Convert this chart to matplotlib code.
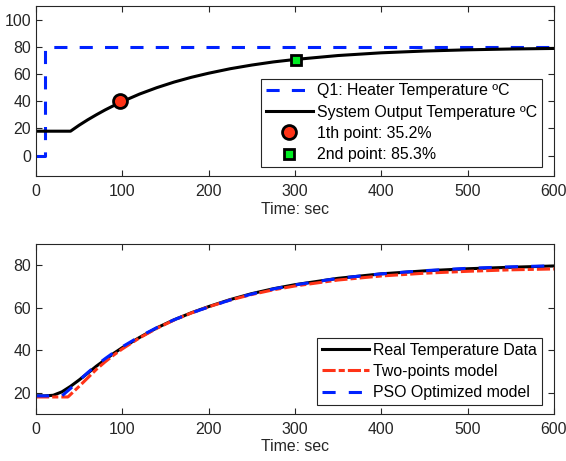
import matplotlib
matplotlib.use("Agg")
import matplotlib.pyplot as plt

plt.rcParams['font.family'] = ['Liberation Sans', 'DejaVu Sans']
plt.rcParams['font.size'] = 11.4

# top panel data
t_q1 = [0, 10, 10, 600]
q1 = [0, 0, 80, 80]

t_out = [0, 10, 20, 30, 40, 50, 60, 70, 80, 90, 100, 120, 140, 160, 180, 200,
         225, 250, 275, 300, 350, 400, 450, 500, 550, 600]
y_out = [18, 18, 18, 18, 18, 22.4, 26.4, 30.1, 33.6, 36.8, 39.8, 45.3, 50.0, 54.1,
         57.6, 60.6, 63.9, 66.6, 68.9, 70.7, 73.6, 75.6, 76.9, 77.8, 78.4, 78.8]

p1 = (97, 40)
p2 = (301, 70.4)

# bottom panel data
t_real = [0, 10, 20, 30, 40, 50, 60, 70, 80, 90, 100, 120, 140, 160, 180, 200,
          225, 250, 275, 300, 350, 400, 450, 500, 550, 600]
y_real = [18.5, 18.5, 18.8, 20.4, 23.0, 26.0, 29.2, 32.5, 35.5, 38.5, 41.2, 46.0,
          50.5, 54.3, 57.6, 60.5, 63.8, 66.6, 68.9, 70.8, 73.8, 75.9, 77.3, 78.3,
          79.0, 79.6]

t_two = [0, 37, 50, 60, 70, 80, 90, 100, 120, 140, 160, 180, 200, 225, 250, 275,
         300, 350, 400, 450, 500, 550, 600]
y_two = [18, 18, 23.0, 27.0, 31.0, 34.5, 37.7, 40.6, 45.8, 50.3, 54.2, 57.5, 60.4,
         63.6, 66.2, 68.4, 70.2, 73.0, 74.9, 76.2, 77.1, 77.8, 78.2]

t_pso = [0, 30, 40, 50, 60, 70, 80, 90, 100, 120, 140, 160, 180, 200, 225, 250,
         275, 300, 350, 400, 450, 500, 550, 600]
y_pso = [18.5, 18.5, 22.0, 25.8, 29.5, 32.9, 36.0, 38.9, 41.6, 46.4, 50.6, 54.3,
         57.5, 60.3, 63.6, 66.4, 68.8, 70.7, 73.8, 75.9, 77.4, 78.5, 79.2, 79.7]

blue = '#0022ff'
red = '#ff3317'
axc = '#262626'

fig = plt.figure(figsize=(5.66, 4.61), dpi=100)
ax1 = fig.add_axes([0.0636, 0.618, 0.915, 0.369])
ax2 = fig.add_axes([0.0636, 0.102, 0.915, 0.369])

leg_kw = dict(loc='lower right', bbox_to_anchor=(0.977, 0.053), borderaxespad=0,
              fancybox=False, edgecolor=axc, framealpha=1, handlelength=3.0,
              borderpad=0.3, labelspacing=0.4, handletextpad=0.25)

ax1.plot(t_q1, q1, '--', color=blue, lw=2.2, dashes=(4.3, 4.0), label='Q1: Heater Temperature ºC')
ax1.plot(t_out, y_out, '-', color='k', lw=2.2, label='System Output Temperature ºC')
ax1.plot(*p1, 'o', ms=10, mfc=red, mec='k', mew=2, ls='none', label='1th point: 35.2%')
ax1.plot(*p2, 's', ms=7, mfc='#00ee22', mec='k', mew=2, ls='none', label='2nd point: 85.3%')
ax1.set_xlim(0, 600)
ax1.set_ylim(-15, 110)
ax1.set_yticks([0, 20, 40, 60, 80, 100])
ax1.set_xlabel('Time: sec', labelpad=2)
leg1 = ax1.legend(**leg_kw)
leg1.get_frame().set_linewidth(0.8)

ax2.plot(t_real, y_real, '-', color='k', lw=2.2, label='Real Temperature Data')
ax2.plot(t_two, y_two, '-.', color=red, lw=2.2, dashes=(4.3, 1.0, 2.0, 1.0), label='Two-points model')
ax2.plot(t_pso, y_pso, '--', color=blue, lw=2.2, dashes=(4.3, 4.3), label='PSO Optimized model')
ax2.set_xlim(0, 600)
ax2.set_ylim(10, 90)
ax2.set_yticks([20, 40, 60, 80])
ax2.set_xlabel('Time: sec', labelpad=2)
leg2 = ax2.legend(**leg_kw)
leg2.get_frame().set_linewidth(0.8)

for ax in (ax1, ax2):
    ax.set_xticks([0, 100, 200, 300, 400, 500, 600])
    ax.tick_params(direction='in', top=True, right=True, colors=axc, length=4, width=0.8)
    ax.tick_params(axis='x', pad=5.5)
    for s in ax.spines.values():
        s.set_color(axc)
        s.set_linewidth(0.8)
    ax.xaxis.label.set_color(axc)

fig.savefig('out.png', dpi=100)
